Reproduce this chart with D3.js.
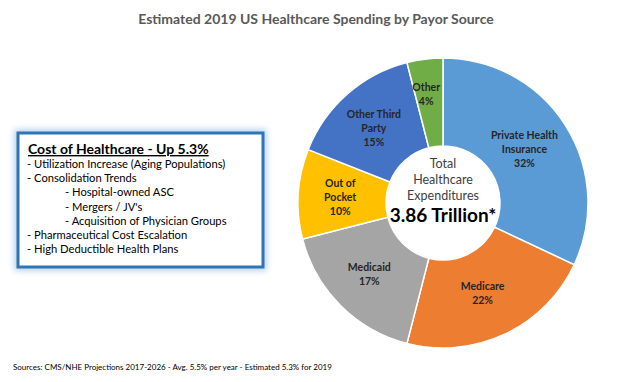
<!DOCTYPE html>
<html>
<head>
<meta charset="utf-8">
<script src="https://cdn.jsdelivr.net/npm/d3@7"></script>
<style>
  body { margin: 0; background: #fff; }
  svg { display: block; font-family: Lato, "Open Sans", sans-serif; }
</style>
</head>
<body>
<svg id="chart" width="624" height="382"></svg>
<script>
// payor sources (clockwise from 12 o'clock)
var payors = ["Private Health Insurance", "Medicare", "Medicaid", "Out of Pocket", "Other Third Party", "Other"];
var shares = [32, 22, 17, 10, 15, 4];
var sliceColors = ["#5b9bd5", "#ed7d31", "#a5a5a5", "#ffc000", "#4472c4", "#70ad47"];
// how each label is wrapped in the picture
var labelLines = [["Private Health", "Insurance"], ["Medicare"], ["Medicaid"], ["Out of", "Pocket"], ["Other Third", "Party"], ["Other"]];

var boxTitle = "Cost of Healthcare - Up 5.3%";
var boxLines = [
  ["- Utilization Increase (Aging Populations)", 0],
  ["- Consolidation Trends", 0],
  ["- Hospital-owned ASC", 1],
  ["- Mergers / JV's", 1],
  ["- Acquisition of Physician Groups", 1],
  ["- Pharmaceutical Cost Escalation", 0],
  ["- High Deductible Health Plans", 0]
];
var centerLines = ["Total", "Healthcare", "Expenditures"];
var centerValue = "3.86 Trillion*";

var svg = d3.select("#chart");

svg.append("text")
  .attr("x", 316).attr("y", 24)
  .attr("text-anchor", "middle")
  .style("font-size", "14px").style("font-weight", "bold")
  .style("fill", "#595959")
  .text("Estimated 2019 US Healthcare Spending by Payor Source");

/**
Donut
*/
var cx = 443, cy = 203, rOuter = 145, rInner = 57;
var data = payors.map(function(p, i){ return {name: p, value: shares[i], i: i}; });

var pie = d3.pie().sort(null).value(function(d){ return d.value; });
var arc = d3.arc().innerRadius(rInner).outerRadius(rOuter);
var labelArc = d3.arc().innerRadius(100).outerRadius(100);
var smallArc = d3.arc().innerRadius(110).outerRadius(110); // thin slice: label sits further out

var g = svg.append("g").attr("transform", "translate(" + cx + "," + cy + ")");
var arcs = pie(data);

g.selectAll("path.slice")
  .data(arcs)
  .enter().append("path")
  .attr("class", "slice")
  .attr("d", arc)
  .style("fill", function(d){ return sliceColors[d.data.i]; })
  .style("stroke", "#fff")
  .style("stroke-width", "1.5px");

var labels = g.selectAll("text.lbl")
  .data(arcs)
  .enter().append("text")
  .attr("class", "lbl")
  .attr("text-anchor", "middle")
  .style("font-size", "10.5px").style("font-weight", "bold")
  .style("fill", "#262626")
  .attr("transform", function(d){
    var c = (d.data.value < 5 ? smallArc : labelArc).centroid(d);
    var n = labelLines[d.data.i].length + 1;
    return "translate(" + (c[0] - 3) + "," + (c[1] - (n - 1) * 14 / 2 + 4) + ")";
  });

labels.each(function(d){
  var t = d3.select(this);
  var lines = labelLines[d.data.i].concat([d.data.value + "%"]);
  lines.forEach(function(l, k){
    t.append("tspan").attr("x", 0).attr("dy", k == 0 ? 0 : 14).text(l);
  });
});

// centre text
centerLines.forEach(function(l, k){
  g.append("text")
    .attr("x", 0).attr("y", -35 + k * 16)
    .attr("text-anchor", "middle")
    .style("font-size", "12.5px").style("fill", "#404040")
    .text(l);
});
g.append("text")
  .attr("x", 0).attr("y", 19)
  .attr("text-anchor", "middle")
  .style("font-size", "19px").style("font-weight", "bold").style("fill", "#000")
  .text(centerValue);

/**
Text box
*/
var defs = svg.append("defs");
var glow = defs.append("filter").attr("id", "glow")
  .attr("x", "-10%").attr("y", "-10%").attr("width", "120%").attr("height", "120%");
glow.append("feGaussianBlur").attr("stdDeviation", 3);

svg.append("rect")
  .attr("x", 18).attr("y", 133).attr("width", 245).attr("height", 134)
  .style("fill", "none").style("stroke", "#9dc3e6").style("stroke-width", 7)
  .style("opacity", 0.8)
  .attr("filter", "url(#glow)");
svg.append("rect")
  .attr("x", 18).attr("y", 133).attr("width", 245).attr("height", 134)
  .style("fill", "#fff").style("stroke", "#2e75b6").style("stroke-width", 3);

svg.append("text")
  .attr("x", 28).attr("y", 154)
  .style("font-size", "14px").style("font-weight", "bold")
  .style("text-decoration", "underline").style("fill", "#000")
  .text(boxTitle);

svg.selectAll("text.boxline")
  .data(boxLines)
  .enter().append("text")
  .attr("class", "boxline")
  .attr("x", function(d){ return d[1] ? 65 : 27; })
  .attr("y", function(d, i){ return 168 + i * 14.2; })
  .style("font-size", "11.2px").style("fill", "#000")
  .text(function(d){ return d[0]; });

svg.append("text")
  .attr("x", 13).attr("y", 370)
  .style("font-size", "8px").style("fill", "#000")
  .text("Sources: CMS/NHE Projections 2017-2026 - Avg. 5.5% per year - Estimated 5.3% for 2019");
</script>
</body>
</html>
